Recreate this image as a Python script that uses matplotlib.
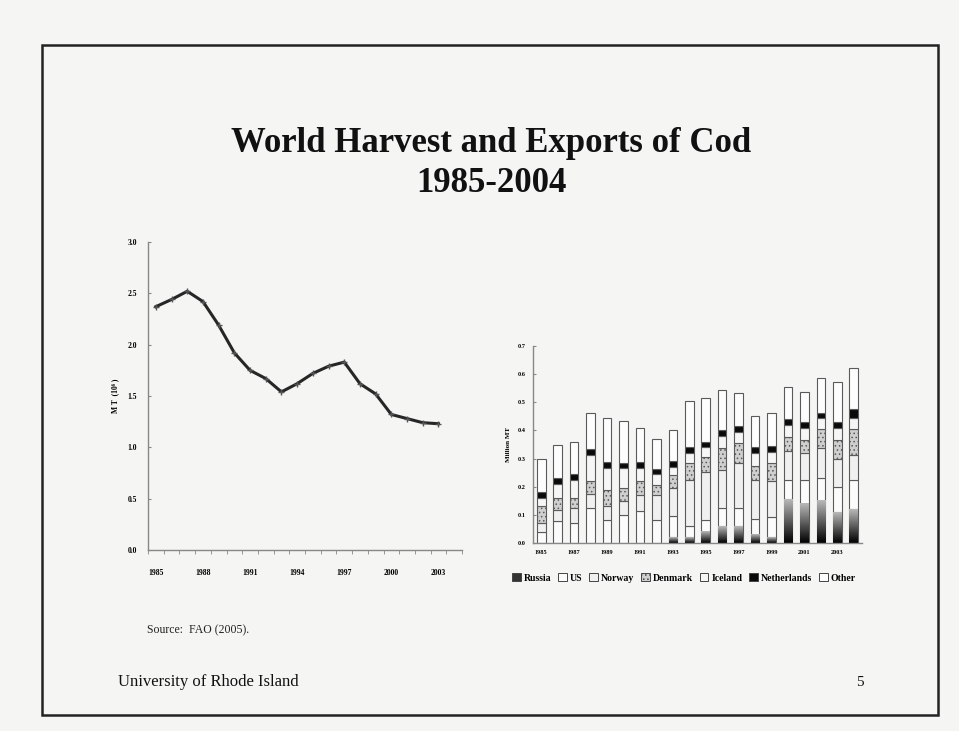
import numpy as np
import matplotlib
matplotlib.use("Agg")
import matplotlib.pyplot as plt
from matplotlib.patches import Rectangle, Patch
from matplotlib.colors import LinearSegmentedColormap

# ---- data ----
years = list(range(1985, 2005))

# world cod harvest, million MT (no 2004 value)
harvest = [2.37, 2.44, 2.52, 2.42, 2.19, 1.92, 1.75, 1.67, 1.54, 1.62,
           1.72, 1.79, 1.83, 1.62, 1.52, 1.32, 1.28, 1.24, 1.23, np.nan]
harvest_ticks = [0.0, 0.5, 1.0, 1.5, 2.0, 2.5, 3.0]
harvest_xlabels = ["1985", "1988", "1991", "1994", "1997", "2000", "2003"]

# cod exports by country, million MT
russia = [0, 0, 0, 0, 0, 0, 0, 0, 0.02, 0.02, 0.04, 0.06, 0.06, 0.03, 0.02,
          0.155, 0.14, 0.15, 0.11, 0.12]
us = [0.04, 0.077, 0.071, 0.124, 0.083, 0.10, 0.112, 0.083, 0.075, 0.04,
      0.043, 0.064, 0.064, 0.055, 0.071, 0.07, 0.085, 0.08, 0.09, 0.105]
norway = [0.03, 0.041, 0.053, 0.05, 0.047, 0.05, 0.059, 0.088, 0.10, 0.165,
          0.171, 0.136, 0.16, 0.14, 0.128, 0.102, 0.095, 0.107, 0.10, 0.088]
denmark = [0.06, 0.042, 0.036, 0.048, 0.06, 0.047, 0.048, 0.036, 0.047, 0.059,
           0.053, 0.077, 0.071, 0.049, 0.065, 0.048, 0.046, 0.068, 0.066, 0.091]
iceland = [0.03, 0.05, 0.064, 0.091, 0.078, 0.068, 0.049, 0.038, 0.028, 0.036,
           0.033, 0.043, 0.04, 0.046, 0.041, 0.045, 0.044, 0.038, 0.044, 0.041]
netherlands = [0.02, 0.02, 0.02, 0.02, 0.02, 0.02, 0.02, 0.018, 0.02, 0.02,
               0.02, 0.02, 0.02, 0.02, 0.02, 0.02, 0.02, 0.02, 0.02, 0.03]
other = [0.12, 0.12, 0.114, 0.13, 0.157, 0.149, 0.12, 0.107, 0.11, 0.165,
         0.155, 0.145, 0.118, 0.113, 0.116, 0.116, 0.108, 0.122, 0.143, 0.148]
export_ticks = [0.0, 0.1, 0.2, 0.3, 0.4, 0.5, 0.6, 0.7]
export_xlabels = [str(y) if (y - 1985) % 2 == 0 else "" for y in years]
countries = ["Russia", "US", "Norway", "Denmark", "Iceland", "Netherlands", "Other"]

serif = ["Liberation Serif", "DejaVu Serif"]
BG = "#f5f5f3"
plt.rcParams["hatch.color"] = "#a0a0a0"
plt.rcParams["hatch.linewidth"] = 0.6

fig = plt.figure(figsize=(9.59, 7.31), dpi=100, facecolor=BG)

# slide frame
fig.patches.append(Rectangle((42 / 959, 1 - 715 / 731), (938 - 42) / 959,
                             (715 - 45) / 731, transform=fig.transFigure,
                             fill=False, edgecolor="#222222", linewidth=1.8))

fig.text(491 / 959, 1 - 144 / 731, "World Harvest and Exports of Cod",
         ha="center", va="center", fontsize=25, fontweight="bold",
         family=serif, color="#111111")
fig.text(491 / 959, 1 - 184 / 731, "1985-2004", ha="center", va="center",
         fontsize=25, fontweight="bold", family=serif, color="#111111")

fig.text(147 / 959, 1 - 630 / 731, "Source:  FAO (2005).", ha="left",
         va="center", fontsize=8.5, family=serif, color="#222222")
fig.text(118 / 959, 1 - 682 / 731, "University of Rhode Island", ha="left",
         va="center", fontsize=12, family=serif, color="#111111")
fig.text(860 / 959, 1 - 682 / 731, "5", ha="center", va="center",
         fontsize=11, family=serif, color="#111111")

x = np.arange(len(years))

# ---- left: harvest line ----
ax1 = fig.add_axes([148 / 959, 1 - 550 / 731, (462 - 148) / 959,
                    (550 - 242) / 731])
ax1.set_facecolor("none")
ax1.plot(x, harvest, color="#262626", linewidth=2.2, marker="+",
         markersize=4, markeredgewidth=1.0, markeredgecolor="#555555")
ax1.set_xlim(-0.5, 19.5)
ax1.set_ylim(0, 3.0)
ax1.set_yticks(harvest_ticks)
ax1.set_yticklabels([f"{t:.1f}" for t in harvest_ticks], fontsize=5.5,
                    fontweight="bold", family=serif)
ax1.set_xticks(np.arange(-0.5, 20, 1), minor=True)
ax1.set_xticks(x[::3])
ax1.set_xticklabels(harvest_xlabels, fontsize=5.5, fontweight="bold",
                    family=serif)
ax1.tick_params(axis="x", which="major", length=0, pad=14)
ax1.tick_params(axis="x", which="minor", length=3, color="#888888",
                direction="out")
ax1.tick_params(axis="y", length=2, color="#888888", direction="in", pad=8)
for s in ["top", "right"]:
    ax1.spines[s].set_visible(False)
for s in ["left", "bottom"]:
    ax1.spines[s].set_color("#888888")
    ax1.spines[s].set_linewidth(1.0)
ax1.set_ylabel("M T  (10⁶ )", fontsize=5.5, fontweight="bold", family=serif,
               labelpad=6)

# ---- right: stacked exports ----
ax2 = fig.add_axes([533 / 959, 1 - 543 / 731, (862 - 533) / 959,
                    (543 - 346) / 731])
ax2.set_facecolor("none")
w = 0.52
series = [russia, us, norway, denmark, iceland, netherlands, other]
faces = ["#3a3a3a", "#fbfbfb", "#f0f0f0", "#cfcfcf", "#f6f6f6", "#0a0a0a",
         "#fdfdfd"]
hatches = [None, None, None, "....", None, None, None]
bottom = np.zeros(len(years))
ramp = LinearSegmentedColormap.from_list("ramp", ["#000000", "#b8b8b8"])
for vals, fc, h, name in zip(series, faces, hatches, countries):
    vals = np.array(vals, dtype=float)
    ax2.bar(x, vals, width=w, bottom=bottom, color=fc, hatch=h,
            edgecolor="#5a5a5a", linewidth=0.8, zorder=2, label=name)
    if name == "Russia":
        for xi, v in zip(x, vals):
            if v > 0:
                ax2.imshow(np.linspace(0, 1, 64)[:, None], cmap=ramp,
                           origin="lower", aspect="auto",
                           extent=(xi - w / 2, xi + w / 2, 0, v), zorder=2.5)
    bottom += vals
ax2.set_xlim(-0.5, 19.5)
ax2.set_ylim(0, 0.7)
ax2.set_yticks(export_ticks)
ax2.set_yticklabels([f"{t:.1f}" for t in export_ticks], fontsize=4.5,
                    fontweight="bold", family=serif)
ax2.set_xticks(x)
ax2.set_xticklabels(export_xlabels, fontsize=4.5, fontweight="bold",
                    family=serif)
ax2.tick_params(axis="x", length=0, pad=5)
ax2.tick_params(axis="y", length=2, color="#888888", direction="in", pad=5)
for s in ["top", "right"]:
    ax2.spines[s].set_visible(False)
for s in ["left", "bottom"]:
    ax2.spines[s].set_color("#888888")
    ax2.spines[s].set_linewidth(1.0)
ax2.set_ylabel("Million MT", fontsize=5, fontweight="bold", family=serif,
               labelpad=5)

handles = [Patch(facecolor=fc, edgecolor="#444444", hatch=h, linewidth=0.7)
           for fc, h in zip(faces, hatches)]
handles[0] = Patch(facecolor="#333333", edgecolor="#444444", linewidth=0.7)
fig.legend(handles, countries, loc="center", ncol=7,
           bbox_to_anchor=(684 / 959, 1 - 578 / 731), frameon=False,
           prop={"family": serif, "size": 7, "weight": "bold"},
           handlelength=0.9, handleheight=0.9, handletextpad=0.3,
           columnspacing=0.7)

fig.savefig("out.png", dpi=100, facecolor=BG)
